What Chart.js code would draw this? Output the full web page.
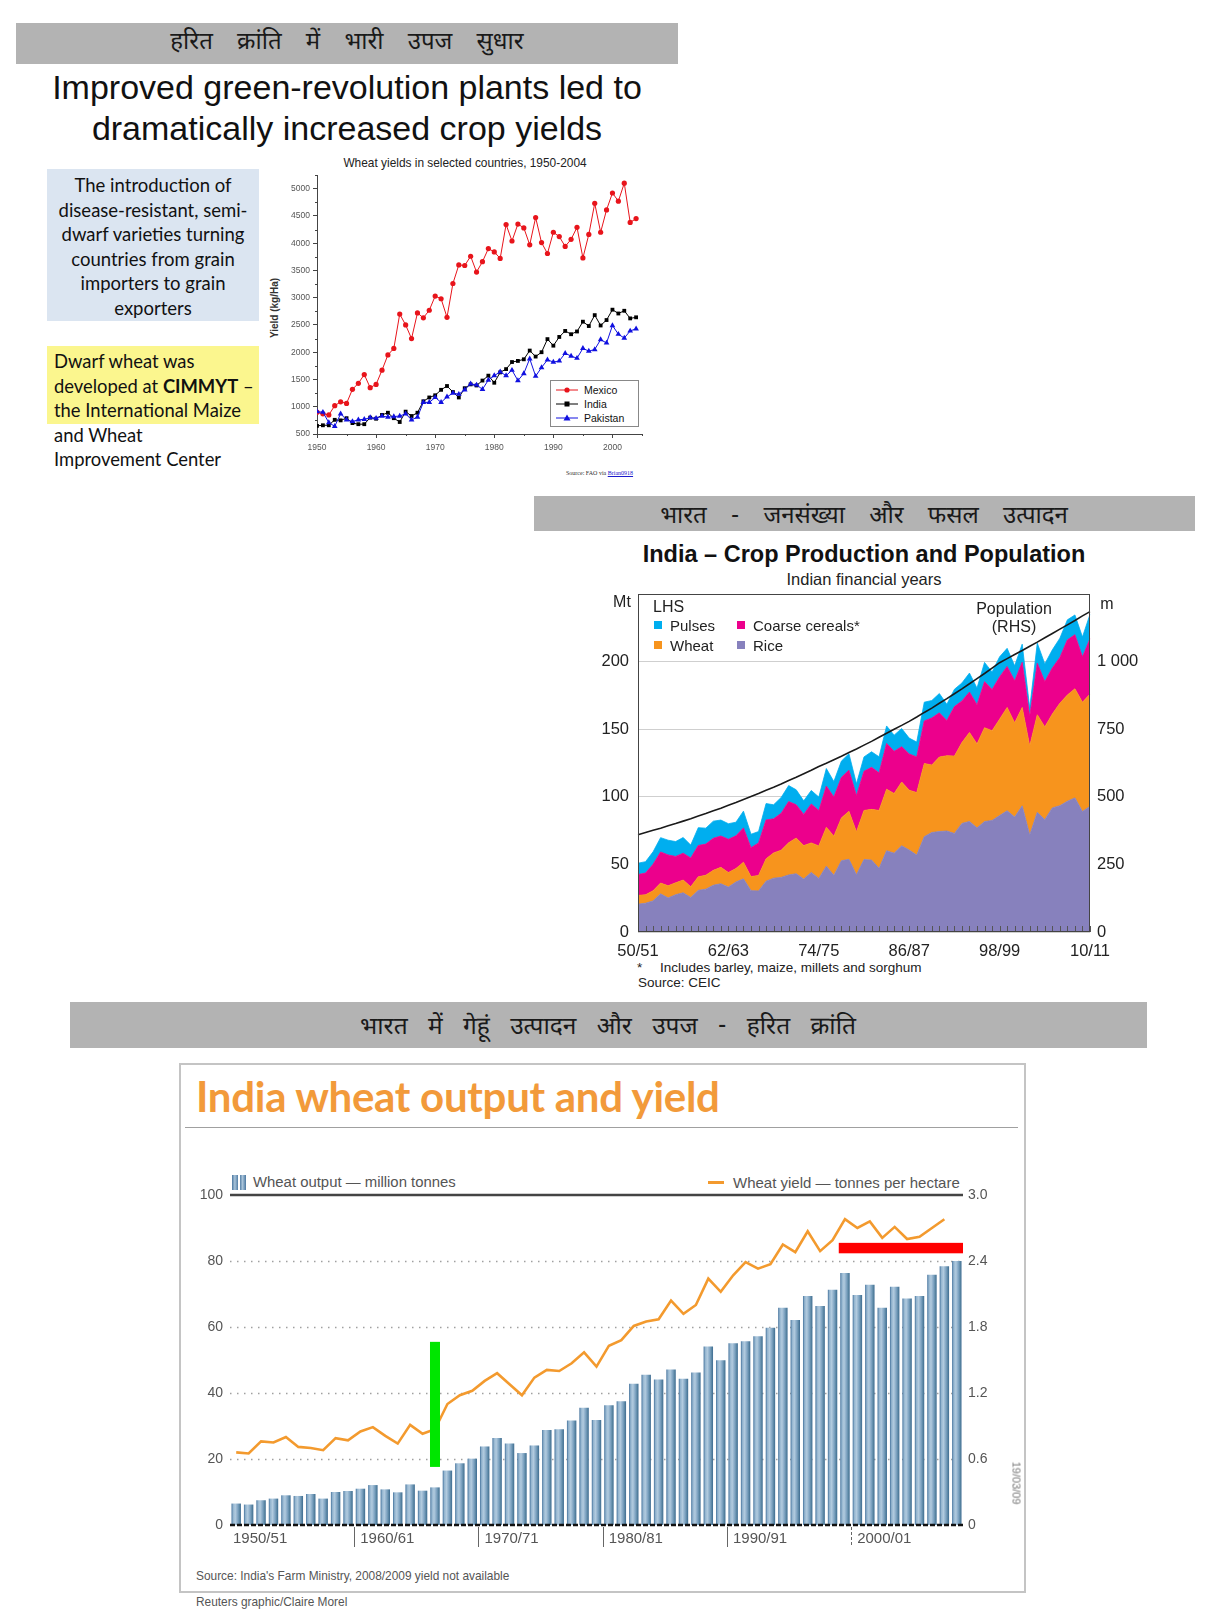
<!DOCTYPE html>
<html><head><meta charset="utf-8">
<script src="https://cdn.jsdelivr.net/npm/chart.js@4.4.1/dist/chart.umd.min.js"></script>
<style>
html,body{margin:0;padding:0;background:#fff;}
body{width:1232px;height:1612px;position:relative;overflow:hidden;font-family:"Liberation Sans",Arial,sans-serif;color:#111;}
.t{position:absolute;white-space:nowrap;line-height:1;}
.c{transform:translate(-50%,-50%);}
.l{transform:translate(0,-50%);}
.hbar{position:absolute;background:#b3b3b3;}
.hin{font-family:"Noto Sans Devanagari","Lohit Devanagari","Noto Sans","DejaVu Sans",sans-serif;color:#1a1a1a;word-spacing:18px;}
canvas{position:absolute;}
.box{position:absolute;}
.sq{position:absolute;width:8px;height:8px;}
</style></head><body>

<!-- Section 1 -->
<div class="hbar" style="left:16px;top:23px;width:662px;height:41px;"></div>
<div class="t c hin" style="left:347px;top:43px;font-size:24px;">हरित क्रांति में भारी उपज सुधार</div>
<div class="t c" style="left:347px;top:87px;font-size:34px;">Improved green-revolution plants led to</div>
<div class="t c" style="left:347px;top:128px;font-size:34px;">dramatically increased crop yields</div>

<div class="box" style="left:47px;top:169px;width:212px;height:152px;background:#dbe5f1;"></div>
<div class="box" style="left:40px;top:173px;width:226px;text-align:center;font-family:Lato,'Open Sans',sans-serif;font-size:18.5px;line-height:24.6px;color:#111;">The introduction of<br>disease-resistant, semi-<br>dwarf varieties turning<br>countries from grain<br>importers to grain<br>exporters</div>

<div class="box" style="left:47px;top:346px;width:212px;height:78px;background:#fbf68e;"></div>
<div class="box" style="left:54px;top:349px;width:230px;font-family:Lato,'Open Sans',sans-serif;font-size:18.4px;line-height:24.5px;color:#111;">Dwarf wheat was<br>developed at <b>CIMMYT</b> –<br>the International Maize<br>and Wheat<br>Improvement Center</div>

<div class="t c" style="left:465px;top:164px;font-size:11.9px;color:#222;">Wheat yields in selected countries, 1950-2004</div>
<div class="t c" style="left:275px;top:308px;font-size:10px;font-weight:bold;color:#333;transform:translate(-50%,-50%) rotate(-90deg);">Yield (kg/Ha)</div>
<canvas id="c1" width="388" height="292" style="left:262px;top:168px;width:388px;height:292px;"></canvas>
<div class="box" style="left:550px;top:380px;width:87px;height:45px;border:1px solid #888;background:#fff;">
  <svg width="87" height="45" style="position:absolute;left:0;top:0">
    <line x1="5" y1="9" x2="27" y2="9" stroke="#e8141b" stroke-width="1"/><circle cx="16" cy="9" r="2.6" fill="#e8141b"/>
    <line x1="5" y1="23" x2="27" y2="23" stroke="#000" stroke-width="1"/><rect x="13.5" y="20.5" width="5" height="5" fill="#000"/>
    <line x1="5" y1="37" x2="27" y2="37" stroke="#1010e0" stroke-width="1"/><polygon points="16,33.5 19.5,39.5 12.5,39.5" fill="#1010e0"/>
  </svg>
  <div class="t l" style="left:33px;top:9px;font-size:10.5px;">Mexico</div>
  <div class="t l" style="left:33px;top:23px;font-size:10.5px;">India</div>
  <div class="t l" style="left:33px;top:37px;font-size:10.5px;">Pakistan</div>
</div>
<div class="t l" style="left:566px;top:473px;font-size:6px;font-family:'Liberation Serif',serif;color:#333;">Source: FAO via <u style="color:#1a1acc">Brian0918</u></div>

<!-- Section 2 -->
<div class="hbar" style="left:534px;top:496px;width:661px;height:35px;"></div>
<div class="t c hin" style="left:864px;top:517px;font-size:24px;">भारत - जनसंख्या और फसल उत्पादन</div>
<div class="t c" style="left:864px;top:555px;font-size:23.5px;font-weight:bold;color:#111;">India – Crop Production and Population</div>
<div class="t c" style="left:864px;top:579px;font-size:16.5px;color:#222;">Indian financial years</div>
<canvas id="c2" width="560" height="372" style="left:590px;top:587px;width:560px;height:372px;"></canvas>
<div class="t c" style="left:622px;top:602px;font-size:16px;color:#222;">Mt</div>
<div class="t c" style="left:1107px;top:604px;font-size:16px;color:#222;">m</div>
<div class="t l" style="left:653px;top:607px;font-size:16px;color:#222;">LHS</div>
<div class="sq" style="left:654px;top:621px;background:#00aeef;"></div>
<div class="t l" style="left:670px;top:625px;font-size:15px;color:#222;">Pulses</div>
<div class="sq" style="left:737px;top:621px;background:#ec008c;"></div>
<div class="t l" style="left:753px;top:625px;font-size:15px;color:#222;">Coarse cereals*</div>
<div class="sq" style="left:654px;top:641px;background:#f7941d;"></div>
<div class="t l" style="left:670px;top:645px;font-size:15px;color:#222;">Wheat</div>
<div class="sq" style="left:737px;top:641px;background:#8781bd;"></div>
<div class="t l" style="left:753px;top:645px;font-size:15px;color:#222;">Rice</div>
<div class="t c" style="left:1014px;top:609px;font-size:16px;color:#222;">Population</div>
<div class="t c" style="left:1014px;top:627px;font-size:16px;color:#222;">(RHS)</div>
<div class="t l" style="left:637px;top:968px;font-size:13.5px;color:#222;">*</div>
<div class="t l" style="left:660px;top:968px;font-size:13.5px;color:#222;">Includes barley, maize, millets and sorghum</div>
<div class="t l" style="left:638px;top:983px;font-size:13.5px;color:#222;">Source: CEIC</div>

<!-- Section 3 -->
<div class="hbar" style="left:70px;top:1002px;width:1077px;height:46px;"></div>
<div class="t c hin" style="left:608px;top:1028px;font-size:24.5px;word-spacing:14px;">भारत में गेहूं उत्पादन और उपज - हरित क्रांति</div>
<div class="box" style="left:179px;top:1063px;width:843px;height:526px;border:2px solid #c4c4c4;"></div>
<div class="t l" style="left:196px;top:1096px;font-size:42px;font-weight:bold;font-family:Lato,'Open Sans',sans-serif;color:#f29a3a;letter-spacing:-0.3px;">India wheat output and yield</div>
<div class="box" style="left:185px;top:1127px;width:833px;height:1px;background:#a0a0a0;"></div>
<div class="box" style="left:232px;top:1175px;width:14px;height:15px;background:linear-gradient(to right,#4a77a0 0%,#a9c4da 20%,#4a77a0 45%,#ffffff 45%,#ffffff 55%,#4a77a0 55%,#a9c4da 75%,#4a77a0 100%);"></div>
<div class="t l" style="left:253px;top:1182px;font-size:14.9px;color:#555;">Wheat output — million tonnes</div>
<div class="box" style="left:708px;top:1181px;width:16px;height:3px;background:#f39a2e;"></div>
<div class="t l" style="left:733px;top:1182px;font-size:15px;color:#555;">Wheat yield — tonnes per hectare</div>
<canvas id="c3" width="840" height="380" style="left:180px;top:1180px;width:840px;height:380px;"></canvas>
<div class="t c" style="left:1016px;top:1483px;font-size:11px;color:#777;transform:translate(-50%,-50%) rotate(90deg);">19/03/09</div>
<div class="t l" style="left:196px;top:1577px;font-size:11.9px;color:#555;">Source: India's Farm Ministry, 2008/2009 yield not available</div>
<div class="t l" style="left:196px;top:1603px;font-size:11.9px;color:#555;">Reuters graphic/Claire Morel</div>

<script>
// ---------- Chart 1 data: wheat yields (kg/ha), 1950-2004 ----------
const years1 = [];
for (let y = 1950; y <= 2004; y++) years1.push(y);
const mexicoYield = [900,870,850,1020,1090,1060,1320,1430,1590,1350,1410,1670,1950,2070,2700,2500,2250,2720,2630,2770,3030,2980,2640,3260,3600,3590,3760,3470,3660,3900,3840,3720,4340,4040,4350,4280,3970,4470,4010,3810,4200,4120,3940,4070,4290,3730,4160,4730,4200,4610,4920,4770,5100,4380,4450];
const indiaYield = [650,660,660,760,750,790,700,680,680,800,780,850,890,790,720,910,830,890,1100,1170,1210,1310,1380,1270,1170,1340,1410,1390,1480,1570,1440,1630,1690,1820,1840,1870,2030,1920,2000,2240,2120,2280,2390,2330,2380,2560,2480,2680,2490,2590,2780,2710,2760,2620,2640];
const pakistanYield = [910,900,710,640,870,760,730,760,770,800,790,830,810,820,830,870,760,810,1080,1080,1170,1080,1180,1250,1230,1310,1420,1400,1320,1490,1570,1640,1570,1670,1480,1610,1880,1560,1720,1860,1820,1840,1980,1930,1890,2070,2020,2050,2230,2170,2490,2330,2260,2390,2430];
const yieldTickValues1 = [500,1000,1500,2000,2500,3000,3500,4000,4500,5000];
const yearTickValues1 = [1950,1960,1970,1980,1990,2000];
const yRange1 = {min: 500, max: 5250};
const xRange1 = {min: 1950, max: 2005};

// ---------- Chart 2 data: India crop production (Mt) & population (m) ----------
const fyLabels = [];
for (let y = 1950; y <= 2010; y++) {
  const a = String(y % 100).padStart(2, '0'), b = String((y + 1) % 100).padStart(2, '0');
  fyLabels.push(a + '/' + b);
}
const riceMt = [20.6,21.3,23.0,28.2,25.2,27.6,29.0,25.5,30.8,31.7,34.6,35.7,33.2,37.0,39.3,30.6,30.4,37.6,39.8,40.4,42.2,43.1,39.2,44.1,39.6,48.7,41.9,52.7,53.8,42.3,53.6,53.2,47.1,60.1,58.3,63.8,60.6,56.9,70.5,73.6,74.3,74.7,72.9,80.3,81.8,77.0,81.7,82.5,86.1,89.7,85.0,93.3,71.8,88.5,83.1,91.8,93.4,96.7,99.2,89.1,93.0];
const wheatMt = [6.5,6.2,7.5,8.0,9.0,8.8,9.4,8.0,10.0,10.3,11.0,12.1,10.8,9.9,12.3,10.4,11.4,16.5,18.7,20.1,23.8,26.4,24.7,21.8,24.1,28.8,29.0,31.7,35.5,31.8,36.3,37.5,42.8,45.5,44.1,47.1,44.3,46.2,54.1,49.9,55.1,55.7,57.2,59.8,65.8,62.1,69.4,66.4,71.3,76.4,69.7,72.8,65.8,72.2,68.6,69.4,75.8,78.6,80.7,80.8,83.0];
const coarseMt = [15.4,16.1,19.6,23.0,22.8,19.5,19.9,21.2,23.2,23.0,23.7,23.2,24.6,24.2,25.4,21.4,24.1,28.8,25.2,27.3,30.5,24.6,23.1,28.8,26.1,30.4,29.0,30.0,30.4,26.9,29.0,31.1,27.8,33.9,31.2,26.2,26.8,26.4,31.5,34.8,32.7,26.0,36.6,30.8,29.9,29.0,34.1,30.4,31.3,30.3,31.1,33.4,22.0,38.1,33.5,34.1,33.9,40.8,40.0,33.6,41.0];
const pulsesMt = [8.4,8.4,9.2,10.6,10.9,11.0,11.6,9.6,13.2,11.8,12.7,11.8,11.5,10.1,12.4,9.9,8.4,12.1,10.4,11.7,11.8,11.1,10.0,10.0,10.0,13.0,11.4,12.0,12.2,8.6,10.6,11.5,11.9,12.9,12.0,13.4,11.7,11.0,13.9,12.9,14.3,12.0,12.8,13.3,14.0,12.3,14.2,13.0,14.8,13.4,11.1,13.4,6.0,14.9,13.1,13.4,14.2,14.8,14.6,14.7,18.0];
const populationM = [360,368,376,384,393,401,410,419,429,438,448,458,469,479,490,501,512,524,535,547,560,572,585,598,612,624,637,650,664,677,691,705,720,735,750,764,779,795,812,828,846,863,881,899,918,937,956,976,996,1011,1026,1041,1057,1072,1088,1104,1120,1136,1152,1169,1185];
const fyTickEvery = 12;

// ---------- Chart 3 data: India wheat output (Mt) & yield (t/ha) ----------
const wheatYearLabels = [];
for (let y = 1950; y <= 2008; y++) wheatYearLabels.push(y + '/' + String((y + 1) % 100).padStart(2, '0'));
const wheatOutput = [6.5,6.2,7.5,8.0,9.0,8.8,9.4,8.0,10.0,10.3,11.0,12.1,10.8,9.9,12.3,10.4,11.4,16.5,18.7,20.1,23.8,26.4,24.7,21.8,24.1,28.8,29.0,31.7,35.5,31.8,36.3,37.5,42.8,45.5,44.1,47.1,44.3,46.2,54.1,49.9,55.1,55.7,57.2,59.8,65.8,62.1,69.4,66.4,71.3,76.4,69.7,72.8,65.8,72.2,68.6,69.4,75.8,78.4,80.0];
const wheatYieldT = [0.66,0.65,0.76,0.75,0.80,0.71,0.70,0.68,0.79,0.77,0.85,0.89,0.81,0.74,0.91,0.83,0.87,1.10,1.18,1.22,1.31,1.38,1.28,1.18,1.34,1.41,1.40,1.47,1.57,1.44,1.63,1.68,1.81,1.85,1.87,2.04,1.92,2.00,2.24,2.12,2.27,2.39,2.33,2.37,2.55,2.48,2.67,2.49,2.59,2.78,2.70,2.76,2.61,2.71,2.60,2.62,2.70,2.78,null];
const decadeStarts = [0,10,20,30,40,50];
const outputTicks = [0,20,40,60,80,100];
const yieldTicksT = {min: 0, max: 3.0, step: 0.6};
const greenMark = {index: 16, from: 17.6, to: 55.5};
const redMark = {fromIndex: 49, from: 2.47, to: 2.565};

Chart.defaults.font.family = '"Liberation Sans", Arial, sans-serif';
Chart.defaults.animation = false;

function fixBox(w, h) {
  return s => {
    if (w !== null) s.width = w;
    if (h !== null) s.height = h;
    s.paddingTop = 0; s.paddingBottom = 0; s.paddingLeft = 0; s.paddingRight = 0;
  };
}

// ---------- Chart 1 ----------
const minorTicks1 = {
  id: 'minorTicks1',
  afterDraw(chart) {
    const {ctx, chartArea: a, scales: {x, y}} = chart;
    ctx.save(); ctx.strokeStyle = '#444'; ctx.lineWidth = 1; ctx.beginPath();
    for (let k = 0; k < yieldTickValues1.length; k++) { const py = Math.round(y.getPixelForValue(yieldTickValues1[k] + 250)) + 0.5; ctx.moveTo(a.left, py); ctx.lineTo(a.left - 2, py); }
    for (let k = 0; k < yearTickValues1.length; k++) { const px = Math.round(x.getPixelForValue(yearTickValues1[k] + 5)) + 0.5; ctx.moveTo(px, a.bottom); ctx.lineTo(px, a.bottom + 2); }
    ctx.stroke(); ctx.restore();
  }
};
function series1(arr) { return years1.map((yr, i) => ({x: yr, y: arr[i]})); }
new Chart(document.getElementById('c1'), {
  type: 'line',
  data: { datasets: [
    {label: 'Pakistan', data: series1(pakistanYield), borderColor: '#1010e0', backgroundColor: '#1010e0', borderWidth: 1, pointStyle: 'triangle', pointRadius: 3.3, pointBorderWidth: 0, tension: 0},
    {label: 'India', data: series1(indiaYield), borderColor: '#000', backgroundColor: '#000', borderWidth: 1, pointStyle: 'rect', pointRadius: 2.7, pointBorderWidth: 0, tension: 0},
    {label: 'Mexico', data: series1(mexicoYield), borderColor: '#e8141b', backgroundColor: '#e8141b', borderWidth: 1, pointStyle: 'circle', pointRadius: 2.6, pointBorderWidth: 0, tension: 0}
  ]},
  options: {
    responsive: false,
    layout: {padding: {top: 7, right: 8, left: 0, bottom: 0}},
    plugins: {legend: {display: false}, tooltip: {enabled: false}},
    scales: {
      x: {type: 'linear', min: xRange1.min, max: xRange1.max,
          afterBuildTicks: s => { s.ticks = yearTickValues1.map(v => ({value: v})); },
          ticks: {callback: v => String(v), font: {size: 8.5}, color: '#555', maxRotation: 0, autoSkip: false, padding: 5},
          grid: {drawOnChartArea: false, tickLength: 4, color: '#444'}, border: {color: '#444'},
          afterFit: fixBox(null, 26)},
      y: {min: yRange1.min, max: yRange1.max,
          afterBuildTicks: s => { s.ticks = yieldTickValues1.map(v => ({value: v})); },
          ticks: {callback: v => String(v), font: {size: 8.5}, color: '#555', autoSkip: false, padding: 3},
          grid: {drawOnChartArea: false, tickLength: 4, color: '#444'}, border: {color: '#444'},
          afterFit: fixBox(55, null)}
    }
  },
  plugins: [minorTicks1]
});

// ---------- Chart 2 ----------
const frame2 = {
  id: 'frame2',
  afterDatasetsDraw(chart) {
    const {ctx, chartArea: a, scales: {x}} = chart;
    ctx.save(); ctx.strokeStyle = '#555'; ctx.lineWidth = 1; ctx.beginPath();
    for (let i = 0; i < fyLabels.length; i++) {
      const px = Math.round(x.getPixelForValue(i)) + 0.5;
      ctx.moveTo(px, a.bottom); ctx.lineTo(px, a.bottom - 6);
    }
    ctx.stroke();
    ctx.strokeStyle = '#444';
    ctx.strokeRect(Math.round(a.left) + 0.5, Math.round(a.top) + 0.5, Math.round(a.width) - 1, Math.round(a.height) - 1);
    ctx.restore();
  }
};
function area2(label, data, color, fill) {
  return {label, data, backgroundColor: color, borderColor: color, borderWidth: 0.8, fill, pointRadius: 0, tension: 0, yAxisID: 'y', order: 1};
}
new Chart(document.getElementById('c2'), {
  type: 'line',
  data: { labels: fyLabels, datasets: [
    area2('Rice', riceMt, '#8781bd', 'origin'),
    area2('Wheat', wheatMt, '#f7941d', '-1'),
    area2('Coarse cereals*', coarseMt, '#ec008c', '-1'),
    area2('Pulses', pulsesMt, '#00aeef', '-1'),
    {label: 'Population', data: populationM, borderColor: '#1a1a1a', borderWidth: 1.6, pointRadius: 0, fill: false, tension: 0, yAxisID: 'y2', order: 0}
  ]},
  options: {
    responsive: false,
    layout: {padding: {top: 7, left: 0, right: 0, bottom: 0}},
    plugins: {legend: {display: false}, tooltip: {enabled: false}},
    scales: {
      x: {ticks: {autoSkip: false, maxRotation: 0, callback: (v, i) => i % fyTickEvery === 0 ? fyLabels[i] : '', font: {size: 16.5}, color: '#222', padding: 10},
          grid: {display: false, drawTicks: false}, border: {display: false},
          afterFit: fixBox(null, 27)},
      y: {stacked: true, min: 0, max: 250,
          ticks: {stepSize: 50, callback: v => v === 250 ? '' : String(v), font: {size: 16.5}, color: '#222', padding: 9},
          grid: {color: '#cfcfcf', drawTicks: false}, border: {display: false},
          afterFit: fixBox(48, null)},
      y2: {position: 'right', min: 0, max: 1250,
          ticks: {stepSize: 250, callback: v => v === 1250 ? '' : (v === 1000 ? '1 000' : String(v)), font: {size: 16.5}, color: '#222', padding: 7},
          grid: {display: false, drawTicks: false}, border: {display: false},
          afterFit: fixBox(60, null)}
    }
  },
  plugins: [frame2]
});

// ---------- Chart 3 ----------
const deco3 = {
  id: 'deco3',
  beforeDatasetsDraw(chart) {
    const {ctx, chartArea: a, scales: {y}} = chart;
    ctx.save();
    ctx.strokeStyle = '#a0a0a0'; ctx.lineWidth = 1.4; ctx.setLineDash([1.5, 5.5]);
    ctx.beginPath();
    outputTicks.filter(v => v > 0 && v < 100).forEach(v => {
      const py = Math.round(y.getPixelForValue(v)) + 0.5;
      ctx.moveTo(a.left, py); ctx.lineTo(a.right, py);
    });
    ctx.stroke();
    ctx.setLineDash([]); ctx.strokeStyle = '#444'; ctx.lineWidth = 2.5;
    ctx.beginPath(); const pt = y.getPixelForValue(100); ctx.moveTo(a.left, pt); ctx.lineTo(a.right, pt); ctx.stroke();
    ctx.restore();
  },
  afterDatasetsDraw(chart) {
    const {ctx, chartArea: a, scales: {x, y, y2}} = chart;
    const step = x.width / wheatYearLabels.length;
    ctx.save();
    ctx.strokeStyle = '#111'; ctx.lineWidth = 2.5; ctx.setLineDash([5, 2]);
    ctx.beginPath(); const pb = y.getPixelForValue(0); ctx.moveTo(a.left, pb); ctx.lineTo(a.right, pb); ctx.stroke();
    ctx.setLineDash([]);
    const gx = x.getPixelForValue(greenMark.index);
    ctx.fillStyle = '#00e600';
    ctx.fillRect(gx - 5, y.getPixelForValue(greenMark.to), 10, y.getPixelForValue(greenMark.from) - y.getPixelForValue(greenMark.to));
    const rx = x.getPixelForValue(redMark.fromIndex) - step / 2;
    ctx.fillStyle = '#ff0000';
    ctx.fillRect(rx, y2.getPixelForValue(redMark.to), a.right - rx, y2.getPixelForValue(redMark.from) - y2.getPixelForValue(redMark.to));
    ctx.font = '15px "Liberation Sans", Arial, sans-serif';
    ctx.fillStyle = '#555'; ctx.textBaseline = 'middle'; ctx.textAlign = 'left';
    decadeStarts.forEach(i => {
      const left = x.getPixelForValue(i) - step / 2;
      if (i > 0) {
        ctx.strokeStyle = '#666'; ctx.lineWidth = 1;
        if (i === 50) ctx.setLineDash([3, 2]); else ctx.setLineDash([]);
        ctx.beginPath(); ctx.moveTo(Math.round(left) + 0.5, a.bottom + 2); ctx.lineTo(Math.round(left) + 0.5, a.bottom + 22); ctx.stroke();
      }
      ctx.fillText(wheatYearLabels[i], left + (i === 0 ? 3 : 6), a.bottom + 14);
    });
    ctx.restore();
  }
};
function barGradient(c) {
  const chart = c.chart, xs = chart.scales.x;
  if (!xs || c.dataIndex === undefined || !isFinite(xs.width)) return '#7ea3c2';
  const cx = xs.getPixelForValue(c.dataIndex);
  const w = xs.width / wheatYearLabels.length * 0.76;
  const g = chart.ctx.createLinearGradient(cx - w / 2, 0, cx + w / 2, 0);
  g.addColorStop(0, '#44729c'); g.addColorStop(0.18, '#94b5cf'); g.addColorStop(0.4, '#b2cbdf');
  g.addColorStop(0.7, '#7aa0bf'); g.addColorStop(0.88, '#55829f'); g.addColorStop(1, '#3d6a93');
  return g;
}
new Chart(document.getElementById('c3'), {
  type: 'bar',
  data: { labels: wheatYearLabels, datasets: [
    {type: 'line', label: 'Wheat yield — tonnes per hectare', data: wheatYieldT, yAxisID: 'y2', borderColor: '#f39a2e', borderWidth: 2.6, pointRadius: 0, tension: 0, fill: false, spanGaps: false, order: 0},
    {type: 'bar', label: 'Wheat output — million tonnes', data: wheatOutput, yAxisID: 'y', backgroundColor: barGradient, borderWidth: 0, barPercentage: 0.76, categoryPercentage: 1, order: 1}
  ]},
  options: {
    responsive: false,
    layout: {padding: {top: 15, left: 0, right: 0, bottom: 0}},
    plugins: {legend: {display: false}, tooltip: {enabled: false}},
    scales: {
      x: {ticks: {display: false}, grid: {display: false, drawTicks: false}, border: {display: false},
          afterFit: fixBox(null, 35)},
      y: {min: 0, max: 100, ticks: {stepSize: 20, font: {size: 14}, color: '#555', padding: 7},
          grid: {display: false, drawTicks: false}, border: {display: false},
          afterFit: fixBox(50, null)},
      y2: {position: 'right', min: yieldTicksT.min, max: yieldTicksT.max,
          ticks: {stepSize: yieldTicksT.step, callback: v => v === 0 ? '0' : Number(v).toFixed(1), font: {size: 14}, color: '#555', padding: 5},
          grid: {display: false, drawTicks: false}, border: {display: false},
          afterFit: fixBox(57, null)}
    }
  },
  plugins: [deco3]
});
</script>
</body></html>
